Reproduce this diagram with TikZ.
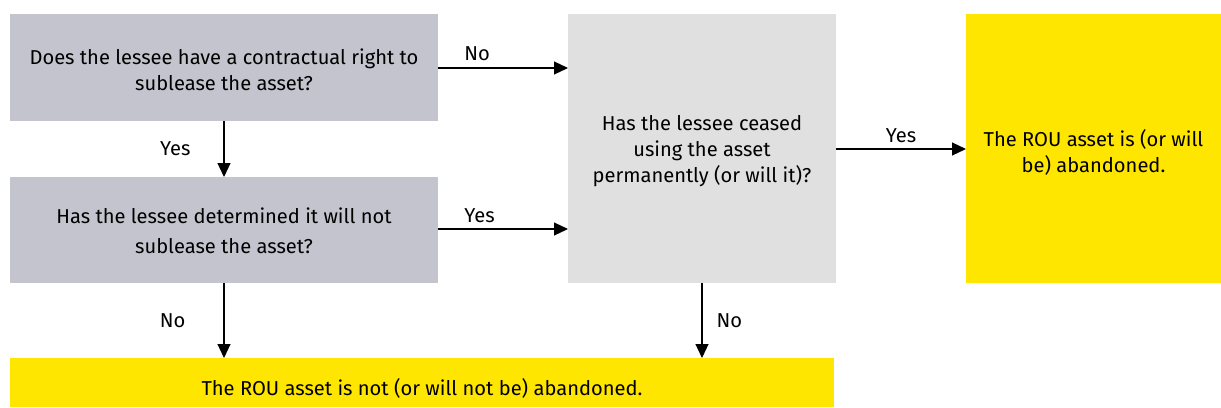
\documentclass[tikz,border=0pt]{standalone}
\usepackage{fontspec}
\setmainfont{Fira Sans}
\usetikzlibrary{arrows.meta}
\definecolor{qgray}{RGB}{196,196,206}
\definecolor{lgray}{RGB}{224,224,224}
\definecolor{eyyellow}{RGB}{255,230,0}
\tikzset{
  box/.style={inner sep=0pt, outer sep=0pt, align=center, font=\fontsize{20.2}{26}\selectfont},
  conn/.style={line width=1.1bp, -{Triangle[length=14bp,width=13bp]}},
  lbl/.style={inner sep=0pt, font=\fontsize{20.2}{24}\selectfont}
}
\begin{document}
\begin{tikzpicture}[x=1bp,y=-1bp]
\useasboundingbox (0,0) rectangle (1221,407);
\node[box, fill=qgray, minimum width=428bp, minimum height=107bp] (a) at (224,67.5) {};
\node[box] (atext) at (224,70) {Does the lessee have a contractual right to\\sublease the asset?};
\node[box, fill=qgray, minimum width=428bp, minimum height=106bp] (b) at (224,230) {};
\node[box, font=\fontsize{20.2}{30}\selectfont] (btext) at (224,231) {Has the lessee determined it will not\\sublease the asset?};
\node[box, fill=lgray, minimum width=268bp, minimum height=269bp] (c) at (702,148.5) {};
\node[box] (ctext) at (702,151) {Has the lessee ceased\\using the asset\\permanently (or will it)?};
\node[box, fill=eyyellow, minimum width=255bp, minimum height=269bp] (d) at (1093.5,148.5) {};
\node[box] (dtext) at (1093.5,152) {The ROU asset is (or will\\be) abandoned.};
\node[box, fill=eyyellow, minimum width=824bp, minimum height=49bp] (e) at (422,382.5) {};
\node[box] (etext) at (422,388) {The ROU asset is not (or will not be) abandoned.};
% connectors
\draw[conn] (a.east |- 0,68) -- (c.west |- 0,68) node[lbl, pos=0.3, above=7bp] {No};
\draw[conn] (b.east |- 0,229) -- (c.west |- 0,229) node[lbl, pos=0.32, above=6bp] {Yes};
\draw[conn] (c.east |- 0,149) -- (d.west |- 0,149) node[lbl, midway, above=6bp] {Yes};
\draw[conn] (a.south) -- (b.north) node[lbl, midway, left=33bp] {Yes};
\draw[conn] (b.south) -- (b.south |- e.north) node[lbl, midway, left=38bp] {No};
\draw[conn] (c.south) -- (c.south |- e.north) node[lbl, midway, right=14bp] {No};
\end{tikzpicture}
\end{document}
